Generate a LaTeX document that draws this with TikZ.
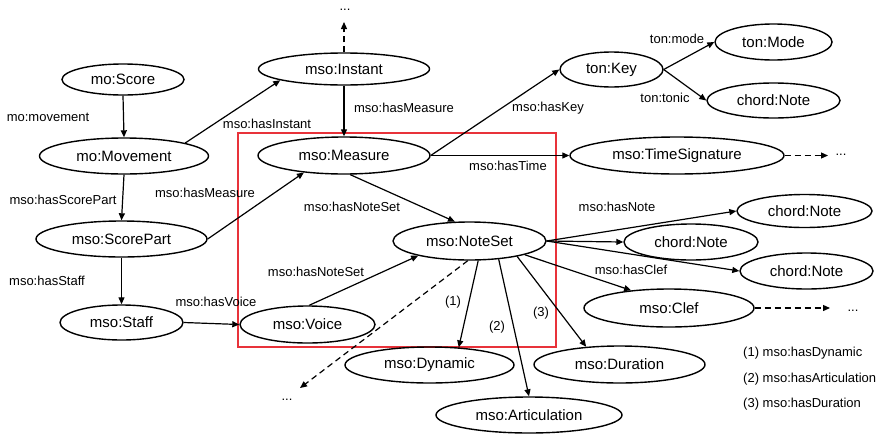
\documentclass[tikz,border=0pt]{standalone}
\usepackage{fontspec}
\setmainfont{Liberation Sans}
\usepackage{xcolor}
\definecolor{boxRed}{HTML}{E8323A}
\usepackage{tikz}
\usetikzlibrary{shapes.geometric, arrows.meta, positioning}

\begin{document}
\begin{tikzpicture}[x=1pt, y=-1pt, >={Triangle[length=7pt, width=6pt]},
        cls/.style={ellipse, draw=black, line width=1.4pt, inner sep=0pt, font=\fontsize{15}{18}\selectfont},
        prop/.style={inner sep=1pt, font=\fontsize{13}{15}\selectfont},
        rel/.style={->, line width=1.2pt},
        more/.style={->, line width=1.2pt, dash pattern=on 6pt off 4pt}]
        \useasboundingbox (0,0) rectangle (882,434);

        % Highlight box around the measure part
        \draw[boxRed, line width=1.3pt] (238,133) rectangle (556,347);

        % Class nodes (left column)
        \node[cls, minimum width=122pt, minimum height=31pt] (score) at (123,79.5) {mo:Score};
        \node[cls, minimum width=169pt, minimum height=36pt] (mov) at (124,156) {mo:Movement};
        \node[cls, minimum width=171pt, minimum height=36pt] (spart) at (121.5,239) {mso:ScorePart};
        \node[cls, minimum width=123pt, minimum height=35pt] (staff) at (121.5,322.5) {mso:Staff};

        % Class nodes (middle)
        \node[cls, minimum width=171pt, minimum height=32pt] (inst) at (344,69) {mso:Instant};
        \node[cls, minimum width=172pt, minimum height=37pt] (meas) at (344,155.5) {mso:Measure};
        \node[cls, minimum width=135pt, minimum height=37pt] (voice) at (307.5,324.5) {mso:Voice};
        \node[cls, minimum width=153pt, minimum height=38pt] (nset) at (469.5,241) {mso:NoteSet};
        \node[cls, minimum width=169pt, minimum height=36pt] (dyn) at (429.5,365) {mso:Dynamic};
        \node[cls, minimum width=186pt, minimum height=36pt] (artic) at (529,415) {mso:Articulation};
        \node[cls, minimum width=171pt, minimum height=37pt] (dur) at (619.5,364.5) {mso:Duration};

        % Class nodes (right)
        \node[cls, minimum width=103pt, minimum height=35pt] (key) at (611.5,69.5) {ton:Key};
        \node[cls, minimum width=117pt, minimum height=36pt] (mode) at (773.5,42) {ton:Mode};
        \node[cls, minimum width=133pt, minimum height=35pt] (tonic) at (773.5,100.5) {chord:Note};
        \node[cls, minimum width=214pt, minimum height=37pt] (tsig) at (677,155.5) {mso:TimeSignature};
        \node[cls, minimum width=135pt, minimum height=33pt] (noteA) at (804.5,211) {chord:Note};
        \node[cls, minimum width=134pt, minimum height=36pt] (noteB) at (691,242) {chord:Note};
        \node[cls, minimum width=133pt, minimum height=36pt] (noteC) at (806.5,271) {chord:Note};
        \node[cls, minimum width=170pt, minimum height=38pt] (clef) at (669,308) {mso:Clef};

        % Open ends
        \node[prop] (dotsUp) at (345,10) {...};
        \node[prop] (dotsTS) at (841,155) {...};
        \node[prop] (dotsClef) at (853,311) {...};
        \node[prop] (dotsSW) at (287,400) {...};
        \coordinate (upEnd) at (344,22);
        \coordinate (tsEnd) at (828,155.5);
        \coordinate (clefEnd) at (830,308);
        \coordinate (swEnd) at (300,388);

        % Properties
        \draw[rel] (score.south) -- (mov.north) node[prop] at (48,117) {mo:movement};
        \draw[rel] (mov.south) -- (spart.north) node[prop] at (63,200) {mso:hasScorePart};
        \draw[rel] (spart.south) -- (staff.north) node[prop] at (47,281) {mso:hasStaff};
        \draw[rel] (staff.east) -- (voice.west) node[prop] at (216,302) {mso:hasVoice};
        \draw[rel] (voice.85) -- (nset.196) node[prop] at (316,272) {mso:hasNoteSet};
        \draw[rel] (mov.12) -- (inst.190) node[prop] at (267,124) {mso:hasInstant};
        \draw[rel] (inst.south) -- (meas.north) node[prop] at (404,108) {mso:hasMeasure};
        \draw[rel] (spart.east) -- (meas.203) node[prop] at (205,193) {mso:hasMeasure};
        \draw[rel] (meas.288) -- (nset.127) node[prop] at (352,207) {mso:hasNoteSet};
        \draw[rel] (meas.east) -- (key.west) node[prop] at (548,108) {mso:hasKey};
        \draw[rel] (meas.east) -- (tsig.west) node[prop] at (508,166) {mso:hasTime};
        \draw[rel] (key.east) -- (mode.west) node[prop] at (677,39) {ton:mode};
        \draw[rel] (key.east) -- (tonic.west) node[prop] at (665,98) {ton:tonic};
        \draw[rel] (nset.east) -- (noteA.west) node[prop] at (617,207) {mso:hasNote};
        \draw[rel] (nset.east) -- (noteB.west);
        \draw[rel] (nset.east) -- (noteC.west);
        \draw[rel] (nset.346) -- (clef.155) node[prop] at (631,270) {mso:hasClef};
        \draw[rel] (nset.294) -- (dyn.31) node[prop] at (453,302) {(1)};
        \draw[rel] (nset.328) -- (artic.north) node[prop] at (497,327) {(2)};
        \draw[rel] (nset.342) -- (dur.152) node[prop] at (541,313) {(3)};

        % Continuations
        \draw[more] (inst.north) -- (upEnd);
        \draw[more] (tsig.east) -- (tsEnd);
        \draw[more] (clef.east) -- (clefEnd);
        \draw[more] (nset.265) -- (swEnd);

        % Legend
        \node[prop, anchor=west] (leg1) at (742,353) {(1) mso:hasDynamic};
        \node[prop, anchor=west] (leg2) at (742,379) {(2) mso:hasArticulation};
        \node[prop, anchor=west] (leg3) at (742,404) {(3) mso:hasDuration};
    \end{tikzpicture}
\end{document}
